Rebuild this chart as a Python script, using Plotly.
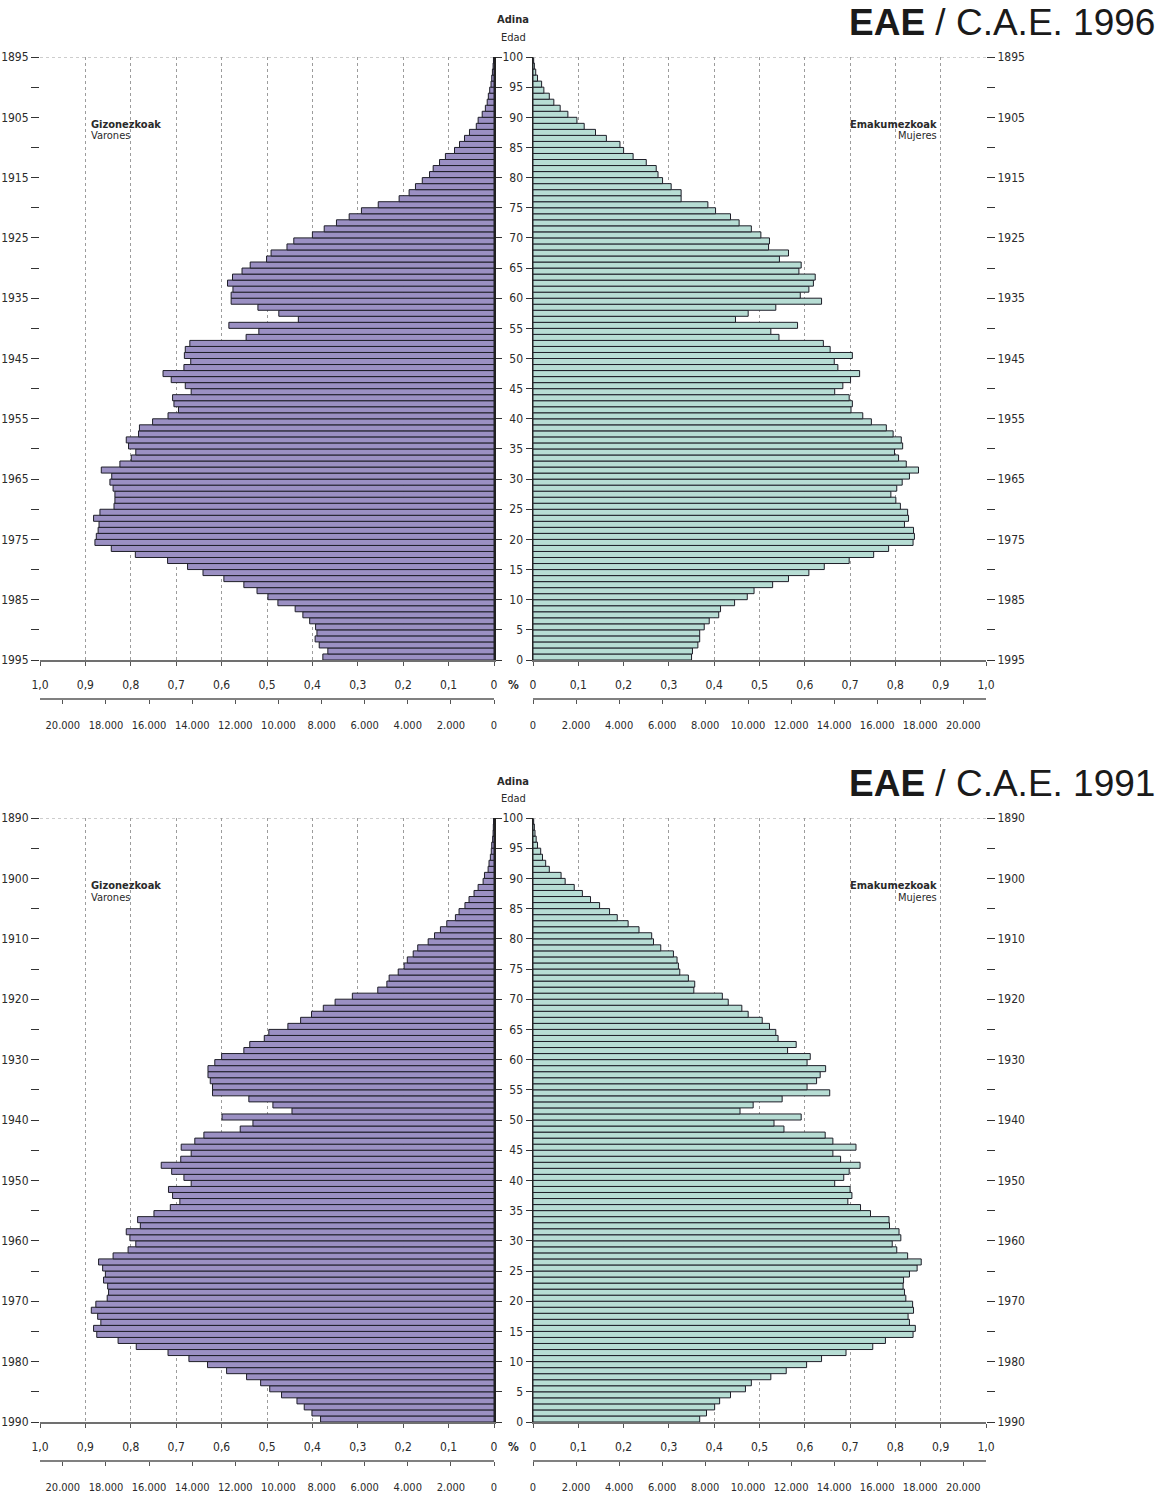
import plotly.graph_objects as go

W, H = 1167, 1495

ages = list(range(100))

male_1996 = [0.377, 0.366, 0.385, 0.394, 0.390, 0.393, 0.406, 0.421, 0.438, 0.476,
             0.498, 0.522, 0.551, 0.595, 0.641, 0.675, 0.719, 0.790, 0.843, 0.879,
             0.876, 0.872, 0.870, 0.882, 0.868, 0.837, 0.835, 0.835, 0.839, 0.846,
             0.842, 0.865, 0.824, 0.799, 0.789, 0.805, 0.810, 0.783, 0.781, 0.752,
             0.718, 0.695, 0.705, 0.708, 0.667, 0.680, 0.711, 0.729, 0.683, 0.668,
             0.682, 0.680, 0.670, 0.546, 0.518, 0.584, 0.431, 0.474, 0.520, 0.579,
             0.579, 0.575, 0.587, 0.576, 0.555, 0.537, 0.501, 0.491, 0.456, 0.441,
             0.400, 0.374, 0.347, 0.319, 0.292, 0.255, 0.209, 0.187, 0.173, 0.158,
             0.142, 0.134, 0.120, 0.107, 0.087, 0.076, 0.065, 0.054, 0.039, 0.035,
             0.026, 0.019, 0.015, 0.0125, 0.0095, 0.0066, 0.005, 0.0035, 0.002, 0.0012]

female_1996 = [0.350, 0.352, 0.364, 0.368, 0.368, 0.378, 0.389, 0.410, 0.414, 0.445,
               0.473, 0.488, 0.529, 0.564, 0.609, 0.643, 0.698, 0.752, 0.785, 0.839,
               0.842, 0.840, 0.820, 0.829, 0.827, 0.811, 0.801, 0.790, 0.803, 0.815,
               0.831, 0.851, 0.824, 0.807, 0.798, 0.816, 0.813, 0.795, 0.780, 0.747,
               0.728, 0.702, 0.705, 0.698, 0.666, 0.684, 0.701, 0.721, 0.673, 0.665,
               0.705, 0.656, 0.641, 0.543, 0.525, 0.584, 0.447, 0.475, 0.536, 0.637,
               0.590, 0.609, 0.619, 0.623, 0.587, 0.592, 0.544, 0.564, 0.520, 0.522,
               0.503, 0.482, 0.455, 0.436, 0.403, 0.386, 0.327, 0.327, 0.305, 0.286,
               0.276, 0.272, 0.250, 0.221, 0.200, 0.192, 0.162, 0.138, 0.113, 0.097,
               0.077, 0.060, 0.046, 0.036, 0.024, 0.019, 0.010, 0.006, 0.003, 0.0015]

male_1991 = [0.382, 0.401, 0.418, 0.434, 0.468, 0.494, 0.514, 0.545, 0.589, 0.631,
             0.672, 0.718, 0.788, 0.828, 0.875, 0.882, 0.866, 0.873, 0.887, 0.877,
             0.852, 0.849, 0.851, 0.860, 0.856, 0.862, 0.871, 0.839, 0.806, 0.789,
             0.802, 0.810, 0.779, 0.785, 0.749, 0.713, 0.692, 0.708, 0.717, 0.667,
             0.683, 0.710, 0.733, 0.690, 0.667, 0.689, 0.659, 0.639, 0.559, 0.531,
             0.599, 0.445, 0.487, 0.540, 0.620, 0.620, 0.625, 0.630, 0.630, 0.615,
             0.600, 0.551, 0.538, 0.506, 0.496, 0.454, 0.426, 0.402, 0.376, 0.350,
             0.312, 0.256, 0.236, 0.231, 0.211, 0.198, 0.191, 0.178, 0.168, 0.145,
             0.131, 0.118, 0.104, 0.085, 0.077, 0.064, 0.055, 0.044, 0.035, 0.024,
             0.021, 0.013, 0.011, 0.008, 0.006, 0.005, 0.003, 0.002, 0.0015, 0.001]

female_1991 = [0.368, 0.383, 0.401, 0.412, 0.436, 0.469, 0.482, 0.525, 0.559, 0.604,
               0.637, 0.691, 0.750, 0.778, 0.839, 0.844, 0.831, 0.828, 0.840, 0.838,
               0.823, 0.820, 0.817, 0.818, 0.831, 0.848, 0.857, 0.827, 0.803, 0.793,
               0.812, 0.808, 0.787, 0.786, 0.745, 0.723, 0.695, 0.704, 0.700, 0.666,
               0.686, 0.698, 0.722, 0.679, 0.662, 0.713, 0.662, 0.645, 0.554, 0.532,
               0.592, 0.457, 0.486, 0.550, 0.655, 0.605, 0.626, 0.634, 0.646, 0.605,
               0.612, 0.562, 0.581, 0.541, 0.536, 0.522, 0.506, 0.475, 0.461, 0.431,
               0.418, 0.355, 0.357, 0.343, 0.324, 0.321, 0.318, 0.310, 0.282, 0.266,
               0.262, 0.234, 0.210, 0.186, 0.169, 0.147, 0.127, 0.109, 0.091, 0.071,
               0.062, 0.036, 0.028, 0.021, 0.017, 0.010, 0.007, 0.0044, 0.003, 0.0015]

pct_ticks = [1.0, 0.9, 0.8, 0.7, 0.6, 0.5, 0.4, 0.3, 0.2, 0.1, 0.0]
pct_text = ['1,0', '0,9', '0,8', '0,7', '0,6', '0,5', '0,4', '0,3', '0,2', '0,1', '0']
num_ticks = [20000, 18000, 16000, 14000, 12000, 10000, 8000, 6000, 4000, 2000, 0]
num_text = ['20.000', '18.000', '16.000', '14.000', '12.000', '10.000',
            '8.000', '6.000', '4.000', '2.000', '0']
age_ticks = list(range(0, 101, 5))
age_text = [str(a) for a in age_ticks]
pop_range = 21060  # persons equivalent to 1 % of total population

charts = [
    dict(male=male_1996, female=female_1996, year=1996, last_birth=1995,
         top=57, bottom=660, num_line=699),
    dict(male=male_1991, female=female_1991, year=1991, last_birth=1990,
         top=818, bottom=1422, num_line=1461),
]

MALE = '#9b90c3'
FEMALE = '#b7ddd4'
EDGE = '#1e1e28'
GRID = '#9c9c9c'
FONT = 'Liberation Sans Narrow, DejaVu Sans Condensed, Arial Narrow, sans-serif'
TXT = '#2a2a2a'


def px(x):
    return x / W


def py(y):
    return 1 - y / H


def sfx(n):
    return '' if n == 1 else str(n)


fig = go.Figure()
layout = dict(width=W, height=H, margin=dict(l=0, r=0, t=0, b=0, pad=0), autosize=False,
              paper_bgcolor='white', plot_bgcolor='rgba(0,0,0,0)', showlegend=False,
              hovermode=False, bargap=0, font=dict(family=FONT, size=12, color=TXT))
shapes = []
annotations = []

for k, c in enumerate(charts):
    b = 4 * k
    xm, xf, xmn, xfn = b + 1, b + 2, b + 3, b + 4
    ym, yf, ymi, yfr = b + 1, b + 2, b + 3, b + 4
    ydom = [py(c['bottom']), py(c['top'])]
    years = [str(c['last_birth'] - a) if a % 10 == 0 else '' for a in age_ticks]
    centers = [a + 0.5 for a in ages]

    fig.add_trace(go.Bar(x=c['male'], y=centers, orientation='h', width=1,
                         marker=dict(color=MALE, line=dict(color=EDGE, width=1)),
                         xaxis='x' + sfx(xm), yaxis='y' + sfx(ym)))
    fig.add_trace(go.Bar(x=c['female'], y=centers, orientation='h', width=1,
                         marker=dict(color=FEMALE, line=dict(color=EDGE, width=1)),
                         xaxis='x' + sfx(xf), yaxis='y' + sfx(yf)))
    # carriers for auxiliary axes
    for xa, ya in [(xmn, ym), (xfn, yf), (xm, ymi), (xf, yfr)]:
        fig.add_trace(go.Scatter(x=[None], y=[None], mode='markers',
                                 xaxis='x' + sfx(xa), yaxis='y' + sfx(ya)))

    pct_common = dict(tickvals=pct_ticks, ticktext=pct_text, ticks='outside', ticklen=4,
                      tickcolor='#555', tickwidth=1, showgrid=True, gridcolor=GRID,
                      griddash='dot', gridwidth=1, showline=True, linecolor='#707070',
                      linewidth=2, zeroline=False, ticklabelstandoff=9, automargin=False,
                      tickfont=dict(size=12, color=TXT, family=FONT))
    layout['xaxis' + sfx(xm)] = dict(domain=[px(40), px(494)], range=[1.0, 0],
                                     anchor='y' + sfx(ym), **pct_common)
    layout['xaxis' + sfx(xf)] = dict(domain=[px(533), px(986)], range=[0, 1.0],
                                     anchor='y' + sfx(yf), **pct_common)
    num_common = dict(tickvals=num_ticks, ticktext=num_text, ticks='outside', ticklen=4,
                      tickcolor='#555', showgrid=False, showline=True, linecolor='#808080',
                      linewidth=2, zeroline=False, anchor='free', position=py(c['num_line']),
                      ticklabelstandoff=12, automargin=False,
                      tickfont=dict(size=11, color=TXT, family=FONT))
    layout['xaxis' + sfx(xmn)] = dict(domain=[px(40), px(494)], range=[pop_range, 0],
                                      overlaying='x' + sfx(xm), **num_common)
    layout['xaxis' + sfx(xfn)] = dict(domain=[px(533), px(986)], range=[0, pop_range],
                                      overlaying='x' + sfx(xf), **num_common)

    ycommon = dict(range=[0, 100], tickvals=age_ticks, ticks='outside', tickcolor='#333',
                   showgrid=False, zeroline=False, automargin=False,
                   tickfont=dict(size=12, color=TXT, family=FONT))
    layout['yaxis' + sfx(ym)] = dict(domain=ydom, anchor='x' + sfx(xm), side='left',
                                     ticktext=years, ticklen=8, showline=False, **ycommon)
    layout['yaxis' + sfx(yf)] = dict(domain=ydom, anchor='x' + sfx(xf), side='left',
                                     ticktext=age_text, ticklen=6, showline=True,
                                     linecolor='#222', linewidth=1.5, **ycommon)
    layout['yaxis' + sfx(ymi)] = dict(domain=ydom, anchor='x' + sfx(xm), side='right',
                                      overlaying='y' + sfx(ym), showticklabels=False,
                                      ticklen=6, showline=True, linecolor='#222',
                                      linewidth=1.5, **ycommon)
    layout['yaxis' + sfx(yfr)] = dict(domain=ydom, anchor='x' + sfx(xf), side='right',
                                      overlaying='y' + sfx(yf), ticktext=years, ticklen=8,
                                      showline=False, **ycommon)

    # dotted frame line at the top (age 100)
    for xa, ya in [(xm, ym), (xf, yf)]:
        shapes.append(dict(type='line', xref='x' + sfx(xa) + ' domain', yref='y' + sfx(ya),
                           x0=0, x1=1, y0=100, y1=100,
                           line=dict(color=GRID, width=1, dash='dot')))

    t = c['top']
    annotations += [
        dict(text='<b>EAE</b> / C.A.E. %d' % c['year'], x=px(1157), y=py(t - 35),
             xref='paper', yref='paper', xanchor='right', yanchor='middle', showarrow=False,
             font=dict(family='Liberation Sans, Arial, sans-serif', size=37, color='#1a1a1a')),
        dict(text='<b>Adina</b>', x=px(513), y=py(t - 37), xref='paper', yref='paper',
             xanchor='center', yanchor='middle', showarrow=False, font=dict(size=11)),
        dict(text='Edad', x=px(513), y=py(t - 20), xref='paper', yref='paper',
             xanchor='center', yanchor='middle', showarrow=False, font=dict(size=11)),
        dict(text='<b>%</b>', x=px(513), y=py(c['bottom'] + 25), xref='paper', yref='paper',
             xanchor='center', yanchor='middle', showarrow=False, font=dict(size=12)),
        dict(text='<b>Gizonezkoak</b>', x=px(89), y=py(t + 67), xref='paper', yref='paper',
             xanchor='left', yanchor='middle', showarrow=False, font=dict(size=11)),
        dict(text='Varones', x=px(89), y=py(t + 79), xref='paper', yref='paper',
             xanchor='left', yanchor='middle', showarrow=False, font=dict(size=11)),
        dict(text='<b>Emakumezkoak</b>', x=px(939), y=py(t + 67), xref='paper', yref='paper',
             xanchor='right', yanchor='middle', showarrow=False, font=dict(size=11)),
        dict(text='Mujeres', x=px(939), y=py(t + 79), xref='paper', yref='paper',
             xanchor='right', yanchor='middle', showarrow=False, font=dict(size=11)),
    ]

layout['shapes'] = shapes
layout['annotations'] = annotations
fig.update_layout(**layout)
fig.write_html('out.html', config={'displayModeBar': False, 'staticPlot': True},
               post_script="document.body.style.margin='0';document.body.style.overflow='hidden';")
